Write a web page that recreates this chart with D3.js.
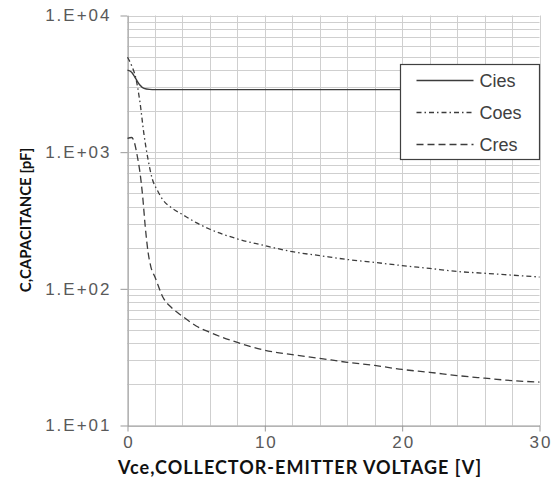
<!DOCTYPE html>
<html>
<head>
<meta charset="utf-8">
<script src="https://cdn.jsdelivr.net/npm/d3@7"></script>
<style>
    body { margin: 0; background: #fff; }
    text { font-family: "Liberation Sans", Arial, sans-serif; }
</style>
</head>
<body>
<div id="chart"></div>
<script>
// Cies
var ciesV = [0, 0.3, 0.6, 0.9, 1.2, 1.6, 2, 5, 10, 15, 20, 25, 30];
var ciesC = [3980, 3850, 3450, 3100, 2930, 2880, 2870, 2870, 2870, 2870, 2870, 2870, 2870];
// Coes
var coesV = [0, 0.3, 0.6, 0.9, 1.2, 1.5, 1.8, 2.2, 2.6, 3.2, 4, 5, 6, 8, 10, 12, 14, 16, 18, 20, 22, 24, 26, 28, 30];
var coesC = [4950, 4300, 3500, 2350, 1350, 880, 640, 520, 445, 392, 350, 305, 273, 232, 207, 187, 175, 164, 156, 148, 141, 134, 130, 126, 122];
// Cres
var cresV = [0, 0.3, 0.5, 0.7, 0.9, 1.1, 1.3, 1.5, 1.7, 2, 2.6, 3.2, 4, 5, 6, 8, 10, 12, 14, 16, 18, 20, 22, 24, 26, 28, 30];
var cresC = [1260, 1280, 1180, 950, 720, 480, 280, 185, 145, 122, 86, 73, 63, 53.5, 48, 40.5, 35.5, 33, 31, 29, 27.5, 25.7, 24.5, 23.2, 22.2, 21.3, 20.8];

var seriesNames = ["Cies", "Coes", "Cres"];
var xTicks = [0, 10, 20, 30];
var yTicks = [10, 100, 1000, 10000];

function init() {
    var w = 557;
    var h = 480;
    var left = 127.5, right = 539.5, top = 15.5, bottom = 425.5;

    var series = [
        { name: "Cies", v: ciesV, c: ciesC, dash: null, width: 1.4 },
        { name: "Coes", v: coesV, c: coesC, dash: "5,3,1.5,3", width: 1.3 },
        { name: "Cres", v: cresV, c: cresC, dash: "7,4", width: 1.3 }
    ];

    var x = d3.scaleLinear().domain([0, 30]).range([left, right]);
    var y = d3.scaleLog().domain([10, 10000]).range([bottom, top]);

    var svg = d3.select("#chart")
        .append("svg")
        .attr("width", w)
        .attr("height", h);

    // grid
    var minor = [];
    [10, 100, 1000].forEach(function (d) {
        for (var k = 1; k <= 9; k++) minor.push(d * k);
    });
    minor.push(10000);

    svg.append("g").selectAll("line")
        .data(minor)
        .enter()
        .append("line")
        .attr("x1", left).attr("x2", right)
        .attr("y1", function (d) { return Math.round(y(d)) + 0.5; })
        .attr("y2", function (d) { return Math.round(y(d)) + 0.5; })
        .attr("stroke", "#cfcfcf")
        .attr("stroke-width", 1);

    svg.append("g").selectAll("line")
        .data(d3.range(0, 31, 2))
        .enter()
        .append("line")
        .attr("x1", function (d) { return Math.round(x(d)) + 0.5; })
        .attr("x2", function (d) { return Math.round(x(d)) + 0.5; })
        .attr("y1", top).attr("y2", bottom)
        .attr("stroke", "#cfcfcf")
        .attr("stroke-width", 1);

    // axes
    var xAxis = d3.axisBottom(x).tickValues(xTicks).tickSize(6).tickSizeOuter(0).tickPadding(4);
    var gx = svg.append("g")
        .attr("transform", "translate(0," + bottom + ")")
        .call(xAxis);
    gx.select(".domain").attr("stroke", "#999");
    gx.selectAll(".tick line").attr("stroke", "#999");
    gx.selectAll(".tick text")
        .attr("fill", "#595959")
        .attr("dx", "1px")
        .style("font-size", "17px")
        .style("letter-spacing", "2px");

    var yAxis = d3.axisLeft(y).tickValues(yTicks).tickSize(7).tickSizeOuter(0).tickPadding(9)
        .tickFormat(function (d) { return "1.E+" + d3.format("02d")(Math.round(Math.log10(d))); });
    var gy = svg.append("g")
        .attr("transform", "translate(" + left + ",0)")
        .call(yAxis);
    gy.select(".domain").attr("stroke", "#999");
    gy.selectAll(".tick line").attr("stroke", "#999");
    gy.selectAll(".tick text")
        .attr("fill", "#595959")
        .style("font-size", "17px")
        .style("letter-spacing", "2px");

    // curves
    var line = d3.line()
        .x(function (d) { return x(d[0]); })
        .y(function (d) { return y(d[1]); })
        .curve(d3.curveMonotoneX);

    series.forEach(function (s) {
        var pts = s.v.map(function (v, i) { return [v, s.c[i]]; });
        svg.append("path")
            .datum(pts)
            .attr("d", line)
            .attr("fill", "none")
            .attr("stroke", "#3c3c3c")
            .attr("stroke-width", s.width)
            .attr("stroke-dasharray", s.dash);
    });

    // legend
    var lg = svg.append("g").attr("transform", "translate(400.5,64.5)");
    lg.append("rect")
        .attr("width", 139).attr("height", 95)
        .attr("fill", "#fff")
        .attr("stroke", "#404040")
        .attr("stroke-width", 1.2);
    series.forEach(function (s, i) {
        var yy = 16 + i * 32;
        lg.append("line")
            .attr("x1", 16).attr("x2", 73)
            .attr("y1", yy).attr("y2", yy)
            .attr("stroke", "#3c3c3c")
            .attr("stroke-width", s.width)
            .attr("stroke-dasharray", s.dash);
        lg.append("text")
            .attr("x", 79).attr("y", yy + 6)
            .attr("fill", "#404040")
            .style("font-size", "18px")
            .text(seriesNames[i]);
    });

    // axis titles
    svg.append("text")
        .attr("text-anchor", "middle")
        .attr("x", 300)
        .attr("y", 474)
        .attr("fill", "#111")
        .style("font-family", "Lato, sans-serif")
        .style("font-weight", "bold")
        .style("font-size", "18px")
        .style("letter-spacing", "1px")
        .text("Vce,COLLECTOR-EMITTER VOLTAGE [V]");

    svg.append("text")
        .attr("text-anchor", "middle")
        .attr("transform", "translate(31,220) rotate(-90)")
        .attr("fill", "#111")
        .style("font-family", "Lato, sans-serif")
        .style("font-weight", "bold")
        .style("font-size", "15px")
        .text("C,CAPACITANCE [pF]");
}

window.onload = init;
</script>
</body>
</html>
